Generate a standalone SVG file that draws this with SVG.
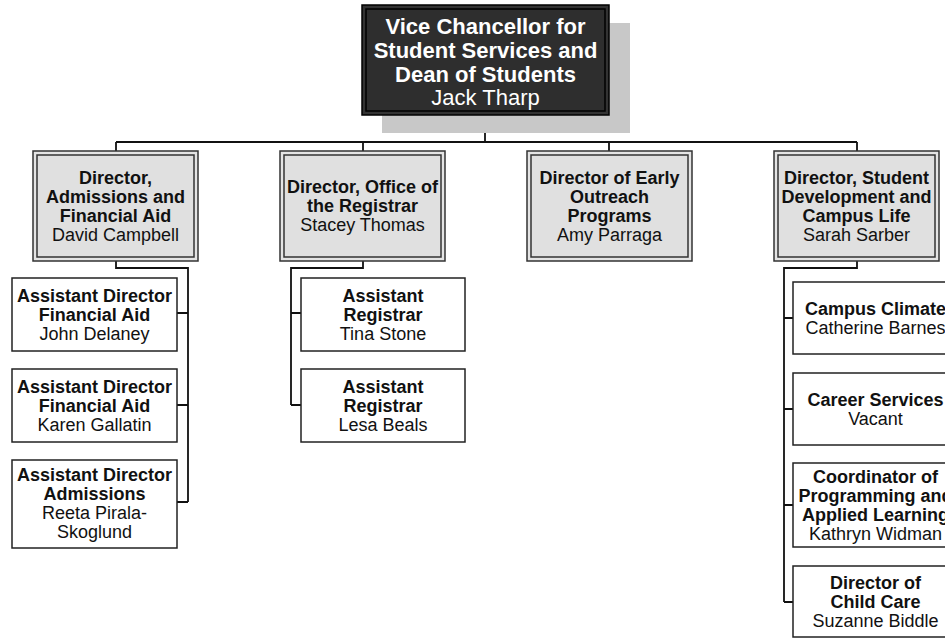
<svg xmlns="http://www.w3.org/2000/svg" width="945" height="639" viewBox="0 0 945 639">
<style>
text{font-family:"Liberation Sans",Arial,sans-serif;text-anchor:middle;fill:#111}
.b{font-weight:bold}
.top text{fill:#fff;font-size:22px}
.d text,.s text{font-size:18px}
.d .o{fill:#e4e4e4;stroke:#333;stroke-width:1.5}
.d .i{fill:#e0e0e0;stroke:#333;stroke-width:1.5}
.s rect{fill:#fff;stroke:#222;stroke-width:1.5}
#connectors path{fill:none;stroke:#111;stroke-width:1.8}
</style>
<rect width="945" height="639" fill="#fff"/>
<g id="connectors">
<path d="M485 115V142M116 142H857M116 142V151M363 142V151M609 142V151M857 142V151"/>
<path d="M116 261V268H188V502M177 313H188M177 405H188M177 502H188"/>
<path d="M363 261V268H291V405M291 313H301M291 405H301"/>
<path d="M857 261V268H784V602M784 318H793M784 409H793M784 505H793M784 602H793"/>
</g>
<g id="vc" class="top">
<rect x="382" y="23" width="248" height="110" fill="#c8c8c8"/>
<rect x="362" y="5" width="247" height="110" fill="#333" stroke="#000" stroke-width="1.5"/>
<rect x="366" y="9" width="239" height="102" fill="#2e2e2e" stroke="#000" stroke-width="1.5"/>
<text x="485.5" y="34" class="b">Vice Chancellor for</text>
<text x="485.5" y="58" class="b">Student Services and</text>
<text x="485.5" y="82" class="b">Dean of Students</text>
<text x="485.5" y="105">Jack Tharp</text>
</g>
<g id="dir-admissions" class="d">
<rect class="o" x="33" y="151" width="165" height="110"/>
<rect class="i" x="37" y="155" width="157" height="102"/>
<text x="115.5" y="184" class="b">Director,</text>
<text x="115.5" y="203" class="b">Admissions and</text>
<text x="115.5" y="222" class="b">Financial Aid</text>
<text x="115.5" y="241">David Campbell</text>
</g>
<g id="dir-registrar" class="d">
<rect class="o" x="280" y="151" width="165" height="110"/>
<rect class="i" x="284" y="155" width="157" height="102"/>
<text x="362.5" y="193" class="b">Director, Office of</text>
<text x="362.5" y="212" class="b">the Registrar</text>
<text x="362.5" y="231">Stacey Thomas</text>
</g>
<g id="dir-outreach" class="d">
<rect class="o" x="527" y="151" width="165" height="110"/>
<rect class="i" x="531" y="155" width="157" height="102"/>
<text x="609.5" y="184" class="b">Director of Early</text>
<text x="609.5" y="203" class="b">Outreach</text>
<text x="609.5" y="222" class="b">Programs</text>
<text x="609.5" y="241">Amy Parraga</text>
</g>
<g id="dir-studentdev" class="d">
<rect class="o" x="774" y="151" width="165" height="110"/>
<rect class="i" x="778" y="155" width="157" height="102"/>
<text x="856.5" y="184" class="b">Director, Student</text>
<text x="856.5" y="203" class="b">Development and</text>
<text x="856.5" y="222" class="b">Campus Life</text>
<text x="856.5" y="241">Sarah Sarber</text>
</g>
<g id="ad-fa-1" class="s">
<rect x="12" y="278" width="165" height="73"/>
<text x="94.5" y="302" class="b">Assistant Director</text>
<text x="94.5" y="321" class="b">Financial Aid</text>
<text x="94.5" y="340">John Delaney</text>
</g>
<g id="ad-fa-2" class="s">
<rect x="12" y="369" width="165" height="73"/>
<text x="94.5" y="393" class="b">Assistant Director</text>
<text x="94.5" y="412" class="b">Financial Aid</text>
<text x="94.5" y="431">Karen Gallatin</text>
</g>
<g id="ad-adm" class="s">
<rect x="12" y="460" width="165" height="88"/>
<text x="94.5" y="481" class="b">Assistant Director</text>
<text x="94.5" y="500" class="b">Admissions</text>
<text x="94.5" y="519">Reeta Pirala-</text>
<text x="94.5" y="538">Skoglund</text>
</g>
<g id="ar-1" class="s">
<rect x="301" y="278" width="164" height="73"/>
<text x="383" y="302" class="b">Assistant</text>
<text x="383" y="321" class="b">Registrar</text>
<text x="383" y="340">Tina Stone</text>
</g>
<g id="ar-2" class="s">
<rect x="301" y="369" width="164" height="73"/>
<text x="383" y="393" class="b">Assistant</text>
<text x="383" y="412" class="b">Registrar</text>
<text x="383" y="431">Lesa Beals</text>
</g>
<g id="campus-climate" class="s">
<rect x="793" y="282" width="165" height="72"/>
<text x="875.5" y="315" class="b">Campus Climate</text>
<text x="875.5" y="334">Catherine Barnes</text>
</g>
<g id="career" class="s">
<rect x="793" y="373" width="165" height="72"/>
<text x="875.5" y="406" class="b">Career Services</text>
<text x="875.5" y="425">Vacant</text>
</g>
<g id="coordinator" class="s">
<rect x="793" y="463" width="165" height="84"/>
<text x="875.5" y="483" class="b">Coordinator of</text>
<text x="875.5" y="502" class="b">Programming and</text>
<text x="875.5" y="521" class="b">Applied Learning</text>
<text x="875.5" y="540">Kathryn Widman</text>
</g>
<g id="childcare" class="s">
<rect x="793" y="566" width="165" height="71"/>
<text x="875.5" y="589" class="b">Director of</text>
<text x="875.5" y="608" class="b">Child Care</text>
<text x="875.5" y="627">Suzanne Biddle</text>
</g>
</svg>
